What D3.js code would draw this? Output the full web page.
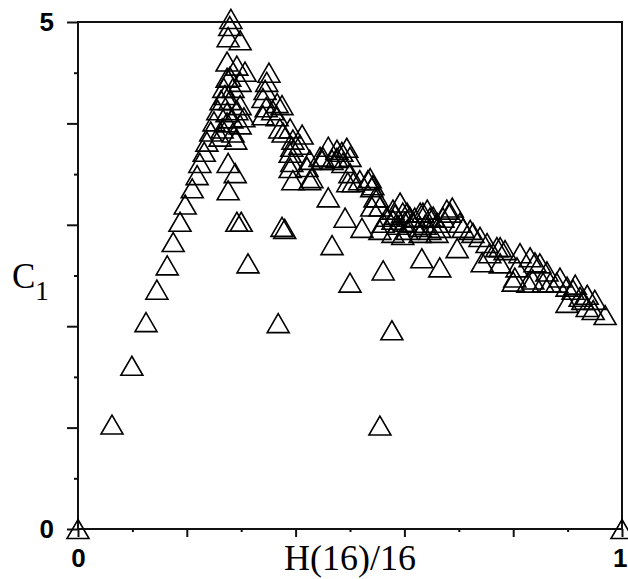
<!DOCTYPE html>
<html lang="en">
<head>
<meta charset="UTF-8">
<title>C1 vs H(16)/16</title>
<script src="https://d3js.org/d3.v7.min.js"></script>
<style>
    body { margin: 0; background: #fff; }
</style>
</head>
<body>
<div id="chart"></div>
<script>
    // normalised entropy H(16)/16 of each point
    var hValues = [
        0, 0.0625, 0.099, 0.125, 0.145, 0.164, 0.175, 0.1875, 0.197, 0.210, 0.219, 0.224,
        0.232, 0.237, 0.244, 0.250, 0.257, 0.263, 0.268, 0.274, 0.274, 0.276, 0.279, 0.281,
        0.298, 0.292, 0.307, 0.279, 0.298, 0.285, 0.279, 0.298, 0.274, 0.292, 0.274, 0.298,
        0.261, 0.285, 0.270, 0.283, 0.265, 0.305, 0.290, 0.276, 0.289, 0.276, 0.292, 0.300,
        0.3125,
        0.351, 0.347, 0.344, 0.340, 0.366, 0.358, 0.375, 0.340, 0.366, 0.346, 0.371, 0.377,
        0.390, 0.395, 0.412, 0.408, 0.393, 0.390, 0.393, 0.390, 0.395, 0.426, 0.375, 0.380,
        0.368, 0.460, 0.445, 0.460, 0.476, 0.494, 0.500, 0.487, 0.449, 0.467, 0.500, 0.496,
        0.518, 0.537, 0.542, 0.550, 0.555, 0.426, 0.421, 0.430, 0.485, 0.450, 0.476, 0.506,
        0.533, 0.540, 0.546, 0.491, 0.522, 0.467, 0.561, 0.500,
        0.540, 0.568, 0.592, 0.597, 0.579, 0.561, 0.610, 0.634, 0.647, 0.678, 0.671, 0.660,
        0.629, 0.605, 0.579, 0.555, 0.579, 0.605, 0.616, 0.597, 0.629, 0.642, 0.653, 0.684,
        0.688, 0.629, 0.660, 0.702, 0.708, 0.721, 0.726, 0.739, 0.752, 0.770, 0.588, 0.619,
        0.638, 0.583, 0.601, 0.665, 0.647,
        0.632, 0.665, 0.697, 0.577, 0.555, 0.743, 0.776,
        0.757, 0.776, 0.8125, 0.831, 0.849, 0.862, 0.807, 0.803, 0.827, 0.836, 0.855, 0.880,
        0.899, 0.910, 0.923, 0.936, 0.936, 0.899, 0.928, 0.947, 0.969, 0.800, 0.868, 0.785,
        0.840, 0.886, 0.914, 0.950, 1
    ];
    // C1 of each point
    var c1Values = [
        0, 1.03, 1.61, 2.04, 2.36, 2.60, 2.83, 3.03, 3.20, 3.36, 3.49, 3.61,
        3.72, 3.82, 3.92, 4.02, 4.13, 4.23, 4.35, 4.45, 4.61, 4.85, 4.96, 5.03,
        4.82, 4.57, 4.51, 4.46, 4.41, 4.35, 4.23, 4.18, 4.11, 4.13, 4.01, 3.99,
        3.87, 3.91, 4.28, 4.05, 3.95, 4.06, 3.84, 3.61, 3.51, 3.34, 3.03, 3.03,
        2.62,
        4.50, 4.41, 4.33, 4.25, 4.20, 4.13, 4.18, 4.08, 4.07, 4.16, 3.95, 3.91,
        3.95, 3.84, 3.89, 3.79, 3.77, 3.71, 3.62, 3.56, 3.44, 3.44, 2.98, 2.96,
        2.03, 3.27, 3.67, 3.77, 3.74, 3.76, 3.67, 3.61, 3.64, 3.64, 3.51, 3.42,
        3.44, 3.46, 3.39, 3.27, 3.18, 3.64, 3.57, 3.46, 3.72, 3.67, 3.66, 3.42,
        3.44, 3.37, 3.27, 3.07, 2.97, 2.80, 2.55, 2.43,
        3.18, 3.08, 3.22, 3.12, 3.05, 3.02, 3.08, 3.12, 3.07, 3.15, 3.07, 3.02,
        2.98, 2.95, 2.92, 2.95, 3.15, 3.12, 3.02, 2.90, 3.12, 3.15, 3.08, 3.12,
        3.17, 2.92, 2.92, 3.02, 2.97, 2.95, 2.92, 2.88, 2.82, 2.78, 3.00, 3.07,
        3.00, 3.10, 3.03, 2.97, 2.95,
        2.67, 2.58, 2.77, 1.96, 1.02, 2.63, 2.62,
        2.72, 2.78, 2.72, 2.68, 2.62, 2.54, 2.58, 2.48, 2.43, 2.46, 2.43, 2.43,
        2.39, 2.36, 2.29, 2.31, 2.19, 2.23, 2.26, 2.16, 2.11, 2.44, 2.43, 2.75,
        2.63, 2.48, 2.41, 2.26, 0
    ];

    var xMajorTicks = [0, 0.2, 0.4, 0.6, 0.8, 1];
    var xMinorTicks = [0.1, 0.3, 0.5, 0.7, 0.9];
    var yMajorTicks = [0, 1, 2, 3, 4, 5];
    var yMinorTicks = [0.5, 1.5, 2.5, 3.5, 4.5];
    var xLabelled = [0, 1];
    var yLabelled = [0, 5];

    var width = 628, height = 579;
    var margin = {top: 22, right: 6, bottom: 50, left: 78};

    var svg = d3.select("#chart")
        .append("svg")
            .attr("width", width)
            .attr("height", height);

    var x = d3.scaleLinear()
        .domain([0, 1])
        .range([margin.left, width - margin.right]);
    var y = d3.scaleLinear()
        .domain([0, 5])
        .range([height - margin.bottom, margin.top]);

    function labelOnly(list) {
        return function (d) { return list.indexOf(d) >= 0 ? d3.format("d")(d) : ""; };
    }

    // minor ticks first, then major ticks with labels
    svg.append("g")
        .attr("transform", "translate(0," + y(0) + ")")
        .call(d3.axisBottom(x).tickValues(xMinorTicks).tickSize(3).tickFormat(""));
    svg.append("g")
        .attr("class", "xAxis")
        .attr("transform", "translate(0," + y(0) + ")")
        .call(d3.axisBottom(x).tickValues(xMajorTicks).tickSize(8).tickPadding(12)
            .tickFormat(labelOnly(xLabelled)));
    svg.append("g")
        .attr("transform", "translate(" + x(0) + ",0)")
        .call(d3.axisLeft(y).tickValues(yMinorTicks).tickSize(4).tickFormat(""));
    svg.append("g")
        .attr("class", "yAxis")
        .attr("transform", "translate(" + x(0) + ",0)")
        .call(d3.axisLeft(y).tickValues(yMajorTicks).tickSize(11).tickPadding(13)
            .tickFormat(labelOnly(yLabelled)));

    svg.selectAll(".domain").remove();
    svg.selectAll(".tick line").attr("stroke", "#111").attr("stroke-width", 2);
    svg.selectAll(".xAxis, .yAxis")
        .attr("font-family", "'Liberation Sans', Arial, sans-serif")
        .attr("font-weight", "bold")
        .attr("font-size", 26);
    svg.selectAll(".tick text").attr("fill", "#000");
    // keep the "1" inside the page edge
    svg.selectAll(".xAxis .tick text")
        .filter(function (d) { return d === 1; })
        .attr("text-anchor", "end")
        .attr("x", width - x(1) - 1);

    // frame
    svg.append("rect")
        .attr("x", x(0))
        .attr("y", y(5))
        .attr("width", x(1) - x(0))
        .attr("height", y(0) - y(5))
        .attr("fill", "none")
        .attr("stroke", "#111")
        .attr("stroke-width", 2);

    // open triangle centred on its bounding box
    var openTriangle = {
        draw: function (context, size) {
            var w = 11, h = 9.5;
            context.moveTo(0, -h);
            context.lineTo(w, h);
            context.lineTo(-w, h);
            context.closePath();
        }
    };
    var points = hValues.map(function (h, i) { return {h: h, c: c1Values[i]}; });

    svg.append("g")
        .selectAll("path")
        .data(points)
        .enter()
        .append("path")
            .attr("d", d3.symbol().type(openTriangle))
            .attr("transform", function (d) { return "translate(" + x(d.h) + "," + y(d.c) + ")"; })
            .attr("fill", "none")
            .attr("stroke", "#000")
            .attr("stroke-width", 1.6);

    // axis titles
    var serif = "'Liberation Serif', 'Times New Roman', serif";
    svg.append("text")
        .attr("x", x(0.5))
        .attr("y", 570)
        .attr("text-anchor", "middle")
        .style("font-family", serif)
        .style("font-size", "36px")
        .text("H(16)/16");

    var yTitle = svg.append("text")
        .attr("x", 12)
        .attr("y", 288)
        .style("font-family", serif)
        .style("font-size", "35px");
    yTitle.append("tspan").text("C");
    yTitle.append("tspan")
        .attr("dy", 12)
        .style("font-size", "27px")
        .text("1");
</script>
</body>
</html>
